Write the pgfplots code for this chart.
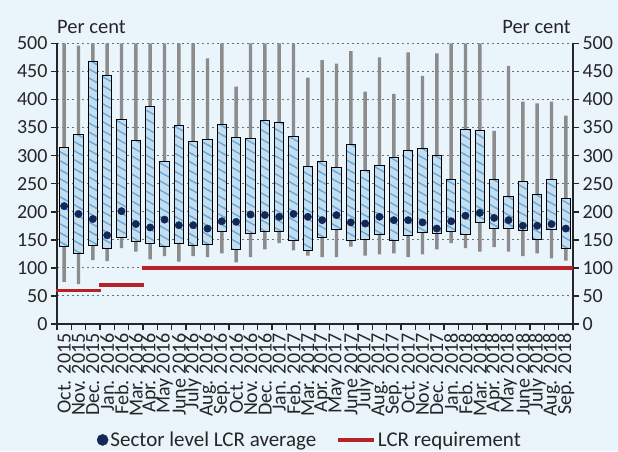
\documentclass[border=0pt]{standalone}
\usepackage{fontspec}
\setmainfont{Carlito}
\usepackage{pgfplots}
\pgfplotsset{compat=1.18}
\usepackage{pgfplotstable}
\usetikzlibrary{patterns}
\definecolor{bgc}{RGB}{234,244,251}
\definecolor{boxc}{RGB}{198,221,240}
\definecolor{stripec}{RGB}{100,172,220}
\definecolor{whiskc}{RGB}{140,140,140}
\definecolor{navyc}{RGB}{20,40,88}
\definecolor{redc}{RGB}{183,34,40}
\definecolor{gridc}{RGB}{110,110,110}
\pgfdeclarepatterninherentlycolored{mystripes}{\pgfqpoint{-1pt}{-1pt}}{\pgfqpoint{17pt}{10pt}}{\pgfqpoint{16pt}{9pt}}{%
  \pgfsetstrokecolor{stripec}%
  \pgfsetlinewidth{1.4pt}%
  \pgfpathmoveto{\pgfqpoint{-1pt}{9.5625pt}}%
  \pgfpathlineto{\pgfqpoint{17pt}{-0.5625pt}}%
  \pgfusepath{stroke}%
}
\pgfplotstableread{
idx lw lq uq uw mean
0 75 138 314 500 210
1 71 126 337 496 196
2 114 140 468 500 187
3 112 135 443 500 158
4 135 154 365 500 201
5 129 147 327 500 178
6 115 144 387 500 172
7 121 138 290 500 186
8 111 144 353 500 176
9 121 140 325 500 176
10 119 142 328 473 170
11 126 165 356 500 183
12 110 133 333 423 182
13 119 162 331 500 195
14 133 165 363 500 194
15 144 165 359 500 191
16 131 149 334 500 196
17 122 131 280 439 191
18 119 154 289 470 185
19 119 169 278 464 194
20 138 149 319 486 181
21 122 151 274 414 179
22 124 160 283 475 191
23 126 149 296 410 185
24 119 158 309 484 185
25 124 163 312 442 181
26 133 162 300 482 170
27 144 165 257 500 183
28 135 160 347 500 193
29 129 181 344 500 198
30 137 170 258 344 189
31 129 170 227 460 185
32 121 167 254 396 175
33 126 151 231 393 175
34 117 169 258 396 178
35 113 135 224 371 170
}\lcr
\pgfplotsset{
 myaxis/.style={scale only axis, width=516pt, height=280.7pt,
   at={(57pt,127pt)}, anchor=south west,
   xmin=-0.5, xmax=35.5, ymin=0, ymax=500,
   ytick={0,50,...,500},
   /pgf/number format/assume math mode=true,
   tick label style={font=\fontsize{20}{20}\selectfont, text=black!85},
   tick align=outside,
   major tick length=6pt, minor tick length=6pt,
   axis line style={-, line width=1.7pt, black!85},
   every tick/.append style={line width=1.6pt, black!85},
 },
}
\begin{document}
\begin{tikzpicture}
\fill[bgc] (0,0) rectangle (618pt,451pt);
\path[use as bounding box] (0,0) rectangle (618pt,451pt);
% axis A: grid, left and bottom axes, category labels
\begin{axis}[myaxis, clip=false,
  axis x line*=bottom, axis y line*=left,
  xtick pos=left, ytick pos=left,
  xtick={0,...,35},
  xticklabels={{Oct. 2015},{Nov. 2015},{Dec. 2015},{Jan. 2016},{Feb. 2016},{Mar. 2016},{Apr. 2016},{May 2016},{June 2016},{July 2016},{Aug. 2016},{Sep. 2016},{Oct. 2016},{Nov. 2016},{Dec. 2016},{Jan. 2017},{Feb. 2017},{Mar. 2017},{Apr. 2017},{May 2017},{June 2017},{July 2017},{Aug. 2017},{Sep. 2017},{Oct. 2017},{Nov. 2017},{Dec. 2017},{Jan. 2018},{Feb. 2018},{Mar. 2018},{Apr. 2018},{May 2018},{June 2018},{July 2018},{Aug. 2018},{Sep. 2018}},
  xticklabel style={rotate=90, anchor=east, font=\fontsize{20}{20}\selectfont},
  major x tick style={draw=none},
  minor xtick={-0.5,0.5,...,35.5},
  ymajorgrids=true,
  grid style={draw=gridc, line width=1pt, dash pattern=on 1.5pt off 3.5pt},
]
\node[anchor=base west, inner sep=0pt, font=\fontsize{20.5}{20.5}\selectfont, text=black!85] at ([yshift=10pt]rel axis cs:0,1) {Per cent};
\end{axis}
% axis B: whiskers and boxes
\begin{axis}[myaxis, ybar stacked, axis lines=none, xtick=\empty, ytick=\empty]
\addplot[draw=none, fill=none, bar width=3.4pt] table[x=idx, y=lw] {\lcr};
\addplot[draw=none, fill=whiskc, bar width=3.4pt] table[x=idx, y expr=\thisrow{lq}-\thisrow{lw}] {\lcr};
\addplot[draw=black, line width=0.9pt, fill=boxc, bar width=9.5pt] table[x=idx, y expr=\thisrow{uq}-\thisrow{lq}] {\lcr};
\addplot[draw=none, fill=whiskc, bar width=3.4pt] table[x=idx, y expr=\thisrow{uw}-\thisrow{uq}] {\lcr};
\end{axis}
% axis D: hatching of the boxes
\begin{axis}[myaxis, ybar stacked, axis lines=none, xtick=\empty, ytick=\empty]
\addplot[draw=none, fill=none, bar width=9.5pt] table[x=idx, y=lq] {\lcr};
\addplot[pattern=mystripes, draw=black, line width=0.9pt, bar width=9.5pt] table[x=idx, y expr=\thisrow{uq}-\thisrow{lq}] {\lcr};
\end{axis}
% axis C: averages, requirement, right axis, legend
\begin{axis}[myaxis, clip=false,
  axis x line=none, axis y line*=right,
  ytick pos=right, yticklabel pos=right,
  xtick=\empty,
  legend style={at={(0.49,-0.413)}, anchor=center, draw=none, fill=none,
    legend columns=2, font=\fontsize{21}{21}\selectfont, text=black!85,
    /tikz/every even column/.append style={column sep=18pt}},
  legend cell align=left,
]
\addplot[only marks, mark=*, mark size=3.7pt, color=navyc, mark options={fill=navyc, draw=navyc},
  legend image code/.code={\fill[navyc] (6pt,0pt) circle (5.6pt);}] table[x=idx, y=mean] {\lcr};
\addlegendentry{Sector level LCR average}
\addplot[redc, line width=3.6pt, unbounded coords=jump,
  legend image code/.code={\draw[redc, line width=3.6pt] (0pt,0pt) -- (36pt,0pt);}]
  coordinates {(-0.6,60) (2.55,60) (2.5,nan) (2.45,70) (5.55,70) (5.5,nan) (5.4,100) (35.5,100)};
\addlegendentry{LCR requirement}
\node[anchor=base east, inner sep=0pt, font=\fontsize{20.5}{20.5}\selectfont, text=black!85] at ([yshift=10pt, xshift=-2pt]rel axis cs:1,1) {Per cent};
\end{axis}
\end{tikzpicture}
\end{document}
